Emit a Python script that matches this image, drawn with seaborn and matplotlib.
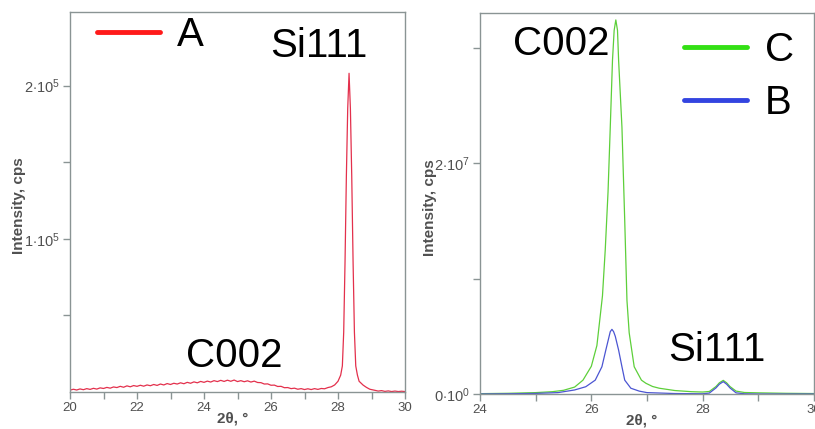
import numpy as np
import pandas as pd
import matplotlib.pyplot as plt
import seaborn as sns
from matplotlib.lines import Line2D
from matplotlib.ticker import FixedLocator, MultipleLocator

sns.set_style('white')
plt.rcParams['font.family'] = ['Liberation Sans', 'DejaVu Sans']
plt.rcParams['mathtext.fontset'] = 'custom'
plt.rcParams['mathtext.rm'] = 'Liberation Sans'
plt.rcParams['mathtext.it'] = 'Liberation Sans:italic'
plt.rcParams['text.color'] = 'black'

# --- sample A (left panel): 2theta in degrees, intensity in kcps
a_theta = [20.0, 20.1, 20.2, 20.3, 20.4, 20.5, 20.6, 20.7, 20.8, 20.9,
           21.0, 21.1, 21.2, 21.3, 21.4, 21.5, 21.6, 21.7, 21.8, 21.9,
           22.0, 22.1, 22.2, 22.3, 22.4, 22.5, 22.6, 22.7, 22.8, 22.9,
           23.0, 23.1, 23.2, 23.3, 23.4, 23.5, 23.6, 23.7, 23.8, 23.9,
           24.0, 24.1, 24.2, 24.3, 24.4, 24.5, 24.6, 24.7, 24.8, 24.9,
           25.0, 25.1, 25.2, 25.3, 25.4, 25.5, 25.6, 25.7, 25.8, 25.9,
           26.0, 26.1, 26.2, 26.3, 26.4, 26.5, 26.6, 26.7, 26.8, 26.9,
           27.0, 27.1, 27.2, 27.3, 27.4, 27.5, 27.6, 27.7, 27.8, 27.9,
           28.0, 28.08, 28.13, 28.17, 28.21, 28.25, 28.29, 28.33, 28.37, 28.41,
           28.45, 28.49, 28.53, 28.58, 28.63, 28.75, 28.85, 28.95, 29.1, 29.2,
           29.3, 29.4, 29.5, 29.6, 29.7, 29.8, 29.9, 30.0]
a_kcps = [1.2, 1.8, 1.3, 2.0, 1.5, 2.2, 1.7, 2.4, 1.9, 2.7,
          2.3, 3.0, 2.5, 3.3, 2.9, 3.7, 3.1, 4.0, 3.4, 4.2,
          3.7, 4.4, 3.8, 4.6, 4.1, 4.9, 4.3, 5.2, 4.6, 5.5,
          4.9, 5.7, 5.2, 6.0, 5.4, 6.3, 5.7, 6.6, 6.0, 6.9,
          6.3, 7.1, 6.5, 7.4, 6.8, 7.6, 6.9, 7.7, 7.0, 7.8,
          6.8, 7.4, 6.7, 7.3, 6.5, 7.1, 6.2, 6.1, 5.2, 5.3,
          4.4, 4.5, 3.6, 3.7, 2.8, 2.9, 2.2, 2.5, 1.8, 2.2,
          1.6, 2.1, 1.6, 2.2, 1.7, 2.3, 2.1, 2.9, 3.4, 4.6,
          7.0, 11, 17, 39, 85, 141, 185, 208, 185, 141,
          85, 39, 17, 11, 7.0, 4.5, 3.0, 1.8, 1.1, 0.6,
          0.9, 0.4, 0.7, 0.3, 0.6, 0.3, 0.5, 0.3]

# --- samples C and B (right panel): intensity in units of 1e7 cps
c_theta = [24.0, 24.5, 25.0, 25.3, 25.5, 25.7, 25.85, 26.0, 26.1, 26.2,
           26.25, 26.3, 26.34, 26.38, 26.41, 26.44, 26.47, 26.49, 26.55, 26.6,
           26.64, 26.68, 26.77, 26.9, 26.98, 27.1, 27.22, 27.5, 27.8, 28.0,
           28.12, 28.24, 28.3, 28.37, 28.43, 28.49, 28.6, 28.75, 29.0, 29.5, 30.0]
c_int = [0.003, 0.006, 0.012, 0.02, 0.032, 0.06, 0.12, 0.24, 0.42, 0.85,
         1.25, 1.75, 2.31, 2.89, 3.15, 3.24, 3.15, 2.89, 2.31, 1.5,
         0.81, 0.53, 0.236, 0.12, 0.093, 0.065, 0.05, 0.03, 0.02, 0.017,
         0.022, 0.065, 0.097, 0.118, 0.097, 0.065, 0.025, 0.013, 0.01, 0.006, 0.004]

b_theta = [24.0, 24.5, 25.0, 25.4, 25.7, 25.9, 26.07, 26.19, 26.26, 26.32,
           26.34, 26.37, 26.4, 26.43, 26.49, 26.55, 26.6, 26.71, 26.86, 27.0,
           27.5, 28.0, 28.12, 28.24, 28.3, 28.37, 28.43, 28.49, 28.6, 28.75,
           29.0, 30.0]
b_int = [0.0, 0.002, 0.005, 0.012, 0.035, 0.063, 0.12, 0.236, 0.38, 0.5,
         0.54, 0.56, 0.54, 0.5, 0.38, 0.236, 0.12, 0.05, 0.025, 0.012,
         0.004, 0.002, 0.008, 0.053, 0.085, 0.107, 0.085, 0.053, 0.01, 0.002,
         0.0, 0.0]

df_a = pd.DataFrame({'theta': a_theta, 'cps': np.array(a_kcps) * 1e3})
df_c = pd.DataFrame({'theta': c_theta, 'cps': np.array(c_int) * 1e7})
df_b = pd.DataFrame({'theta': b_theta, 'cps': np.array(b_int) * 1e7})

red, green, blue = '#e3304c', '#5dcf3a', '#4b55d2'
grey_txt = '#505050'
spine_col = '#8a9494'

fig = plt.figure(figsize=(8.15, 4.29), dpi=100)
ax1 = fig.add_axes([70 / 815, 37 / 429, 335 / 815, 380 / 429])
ax2 = fig.add_axes([480 / 815, 35 / 429, 334 / 815, 381 / 429])

sns.lineplot(data=df_a, x='theta', y='cps', ax=ax1, color=red, lw=0.9,
             sort=False, estimator=None)
sns.lineplot(data=df_c, x='theta', y='cps', ax=ax2, color=green, lw=0.9,
             sort=False, estimator=None)
sns.lineplot(data=df_b, x='theta', y='cps', ax=ax2, color=blue, lw=0.9,
             sort=False, estimator=None)

ax1.set_xlim(20, 30)
ax1.set_ylim(0, 2.48e5)
ax2.set_xlim(24, 30)
ax2.set_ylim(0, 3.3e7)

ax1.yaxis.set_major_locator(FixedLocator([1e5, 2e5]))
ax1.set_yticklabels([r'$1{\cdot}10^{5}$', r'$2{\cdot}10^{5}$'])
ax1.yaxis.set_minor_locator(FixedLocator([5e4, 1.5e5]))
ax2.yaxis.set_major_locator(FixedLocator([0, 2e7]))
ax2.set_yticklabels([r'$0{\cdot}10^{0}$', r'$2{\cdot}10^{7}$'])
ax2.yaxis.set_minor_locator(FixedLocator([1e7, 3e7]))

for ax in (ax1, ax2):
    ax.xaxis.set_major_locator(MultipleLocator(2))
    ax.xaxis.set_minor_locator(MultipleLocator(1))
    ax.tick_params(which='both', direction='out', length=5, width=1,
                   color=spine_col, labelcolor=grey_txt, labelsize=9.5,
                   bottom=True, left=True, top=False, right=False, pad=2)
    ax.tick_params(axis='y', labelsize=10.5)
    for s in ax.spines.values():
        s.set_color(spine_col)
        s.set_linewidth(1.0)
    ax.set_xlabel('2θ, °', fontsize=11, fontweight='bold', color=grey_txt)
    ax.set_ylabel('Intensity, cps', fontsize=11, fontweight='bold', color=grey_txt)
    ax.xaxis.set_label_coords(0.484, -0.052)
    ax.yaxis.set_label_coords(-0.13, 0.49)

# peak labels
ax1.text(0.743, 0.882, 'Si111', transform=ax1.transAxes, ha='center',
         va='baseline', fontsize=29, color='black')
ax1.text(0.49, 0.066, 'C002', transform=ax1.transAxes, ha='center',
         va='baseline', fontsize=29, color='black')
ax2.text(0.242, 0.89, 'C002', transform=ax2.transAxes, ha='center',
         va='baseline', fontsize=29, color='black')
ax2.text(0.71, 0.087, 'Si111', transform=ax2.transAxes, ha='center',
         va='baseline', fontsize=29, color='black')

leg_kw = dict(frameon=False, fontsize=29, handlelength=1.56, handletextpad=0.43,
              borderpad=0, borderaxespad=0, loc='center left', labelcolor='black')
ax1.legend(handles=[Line2D([], [], color='#ff1a1a', lw=3.5)], labels=['A'],
           bbox_to_anchor=(0.08, 0.94), **leg_kw)
ax2.legend(handles=[Line2D([], [], color='#33e014', lw=3.5),
                    Line2D([], [], color='#3344e0', lw=3.5)],
           labels=['C', 'B'], bbox_to_anchor=(0.612, 0.834),
           labelspacing=0.37, **leg_kw)

fig.savefig('out.png', dpi=100)
